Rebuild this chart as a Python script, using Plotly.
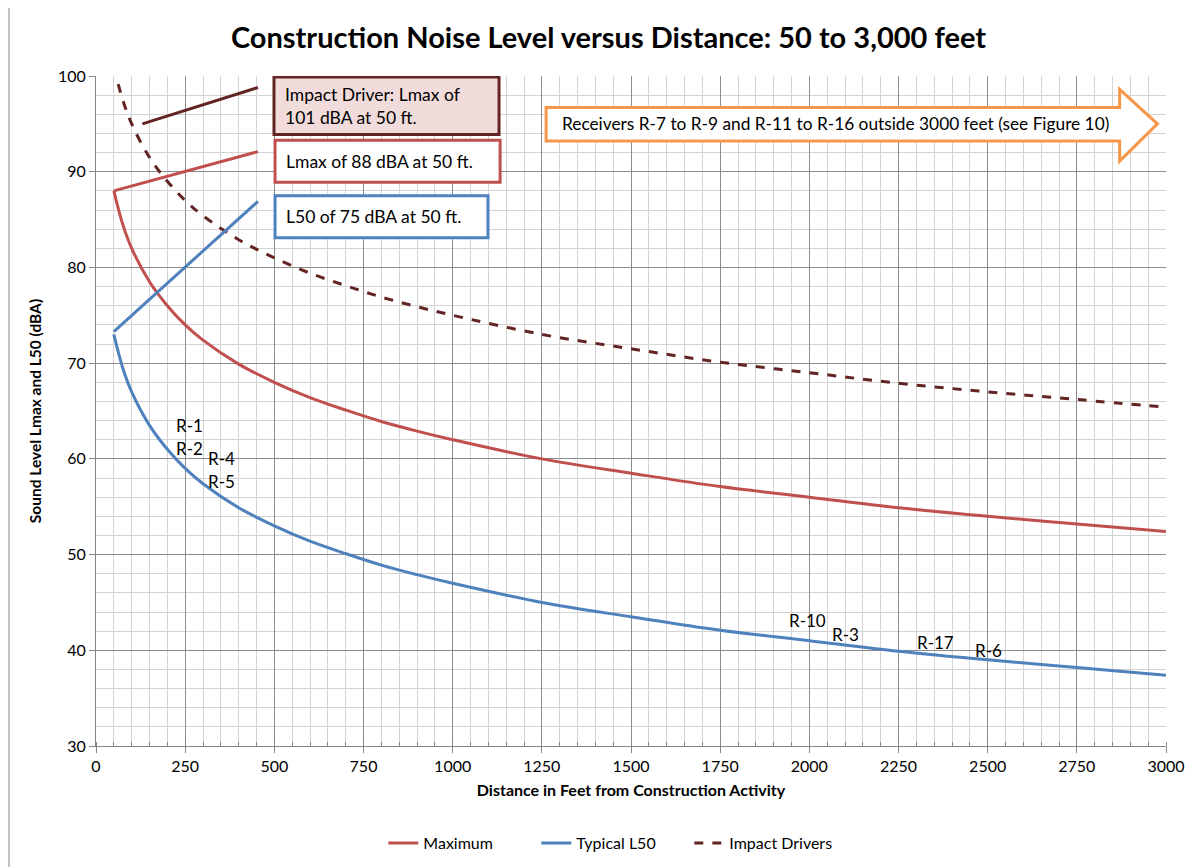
import plotly.graph_objects as go

# ---- data ----
distance_ft = [50, 75, 100, 150, 200, 250, 300, 400, 500, 600, 700, 800, 900, 1000,
               1250, 1500, 1750, 2000, 2250, 2500, 2750, 3000]
maximum_dba = [88.0, 84.5, 82.0, 78.5, 76.0, 74.0, 72.4, 69.9, 68.0, 66.4, 65.1, 63.9, 62.9, 62.0,
               60.0, 58.5, 57.1, 56.0, 54.9, 54.0, 53.2, 52.4]
typical_l50 = [73.0, 69.5, 67.0, 63.5, 61.0, 59.0, 57.4, 54.9, 53.0, 51.4, 50.1, 48.9, 47.9, 47.0,
               45.0, 43.5, 42.1, 41.0, 39.9, 39.0, 38.2, 37.4]
impact_dba = [101.0, 97.5, 95.0, 91.5, 89.0, 87.0, 85.4, 82.9, 81.0, 79.4, 78.1, 76.9, 75.9, 75.0,
              73.0, 71.5, 70.1, 69.0, 67.9, 67.0, 66.2, 65.4]

receiver_labels = ["R-1", "R-2", "R-4", "R-5", "R-10", "R-3", "R-17", "R-6"]
receiver_x = [263, 263, 353, 353, 1996, 2100, 2355, 2501]
receiver_y = [63.5, 61.1, 60.0, 57.6, 43.1, 41.7, 40.8, 40.0]

x_ticks = list(range(0, 3001, 250))
y_ticks = list(range(30, 101, 10))

RED = "#C0504D"
BLUE = "#4F81BD"
DARK = "#632523"
ORANGE = "#F79646"
FONT = "Lato, 'Open Sans', sans-serif"

fig = go.Figure()
fig.add_trace(go.Scatter(x=distance_ft, y=maximum_dba, name="Maximum", mode="lines",
                         line=dict(color=RED, width=3, shape="spline")))
fig.add_trace(go.Scatter(x=distance_ft, y=typical_l50, name="Typical L50", mode="lines",
                         line=dict(color=BLUE, width=3, shape="spline")))
fig.add_trace(go.Scatter(x=distance_ft, y=impact_dba, name="Impact Drivers", mode="lines",
                         line=dict(color=DARK, width=3, dash="dash", shape="spline")))

# callout leader lines
fig.add_shape(type="line", x0=130, y0=95.0, x1=454, y1=98.8, line=dict(color=DARK, width=3), layer="above")
fig.add_shape(type="line", x0=distance_ft[0], y0=maximum_dba[0], x1=454, y1=92.1, line=dict(color=RED, width=3), layer="above")
fig.add_shape(type="line", x0=distance_ft[0], y0=typical_l50[0] + 0.3, x1=454, y1=86.9, line=dict(color=BLUE, width=3), layer="above")

# callout boxes (data coordinates)
fig.add_shape(type="rect", x0=499, x1=1130, y0=93.9, y1=99.9,
              line=dict(color=DARK, width=3), fillcolor="#F2DCDB", layer="above")
fig.add_shape(type="rect", x0=502, x1=1133, y0=88.9, y1=93.3,
              line=dict(color=RED, width=3), fillcolor="white", layer="above")
fig.add_shape(type="rect", x0=502, x1=1099, y0=83.1, y1=87.5,
              line=dict(color=BLUE, width=3), fillcolor="white", layer="above")
# arrow
ax0, ah, atip = 1262, 2870, 2976
ay_lo, ay_hi, ay_mid = 93.2, 96.7, 95.0
ah_lo, ah_hi = 91.1, 98.6
path = (f"M {ax0},{ay_lo} L {ah},{ay_lo} L {ah},{ah_lo} L {atip},{ay_mid} "
        f"L {ah},{ah_hi} L {ah},{ay_hi} L {ax0},{ay_hi} Z")
fig.add_shape(type="path", path=path, line=dict(color=ORANGE, width=3), fillcolor="white", layer="above")

box_font = dict(family=FONT, size=17.5, color="black")
fig.add_annotation(x=525, y=96.9, xanchor="left", yanchor="middle", showarrow=False,
                   text="Impact Driver: Lmax of<br>101 dBA at 50 ft.", align="left", font=box_font)
fig.add_annotation(x=528, y=91.1, xanchor="left", yanchor="middle", showarrow=False,
                   text="Lmax of 88 dBA at 50 ft.", font=box_font)
fig.add_annotation(x=528, y=85.3, xanchor="left", yanchor="middle", showarrow=False,
                   text="L50 of 75 dBA at 50 ft.", font=box_font)
fig.add_annotation(x=1300, y=95.0, xanchor="left", yanchor="middle", showarrow=False,
                   text="Receivers R-7 to R-9 and R-11 to R-16 outside 3000 feet (see Figure 10)",
                   font=dict(family=FONT, size=17.3, color="black"))

rec_font = dict(family=FONT, size=17, color="black")
for lab, rx, ry in zip(receiver_labels, receiver_x, receiver_y):
    fig.add_annotation(x=rx, y=ry, text=lab, showarrow=False, font=rec_font,
                       xanchor="center", yanchor="middle")

# outer chart border
fig.add_shape(type="rect", xref="paper", yref="paper", x0=-87.0 / 1070, x1=1.2, y0=-0.2, y1=1.2,
              line=dict(color="#868686", width=1), layer="below")

fig.update_layout(
    width=1201, height=867,
    margin=dict(l=88, r=43, t=68, b=129),
    paper_bgcolor="white", plot_bgcolor="white",
    font=dict(family=FONT, size=16, color="black"),
    title=dict(text="<b>Construction Noise Level versus Distance: 50 to 3,000 feet</b>",
               x=0.5, xanchor="center", y=0.965, yanchor="middle",
               font=dict(family=FONT, size=29, color="black")),
    showlegend=True,
    legend=dict(orientation="h", x=0.483, xanchor="center", y=-0.145, yanchor="middle",
                font=dict(family=FONT, size=16), tracegroupgap=0,
                entrywidth=108, entrywidthmode="pixels"),
    xaxis=dict(range=[0, 3000], tickvals=x_ticks, ticks="outside", ticklen=6, tickcolor="#868686",
               showgrid=True, gridcolor="#8C8C8C", gridwidth=1,
               minor=dict(dtick=50, showgrid=True, gridcolor="#D4D4D4", gridwidth=1,
                          ticks="inside", ticklen=4, tickcolor="#868686"),
               showline=True, linecolor="#868686", linewidth=1, zeroline=False,
               title=dict(text="<b>Distance in Feet from Construction Activity</b>",
                          font=dict(family=FONT, size=16), standoff=10),
               tickfont=dict(size=16)),
    yaxis=dict(range=[30, 100], tickvals=y_ticks, ticks="outside", ticklen=6, tickcolor="#868686",
               showgrid=True, gridcolor="#8C8C8C", gridwidth=1,
               minor=dict(dtick=2, showgrid=True, gridcolor="#D4D4D4", gridwidth=1),
               showline=True, linecolor="#868686", linewidth=1, zeroline=False,
               title=dict(text="<b>Sound Level Lmax and L50 (dBA)</b>",
                          font=dict(family=FONT, size=15.5), standoff=12),
               tickfont=dict(size=16)),
)

fig.write_html("out.html")
